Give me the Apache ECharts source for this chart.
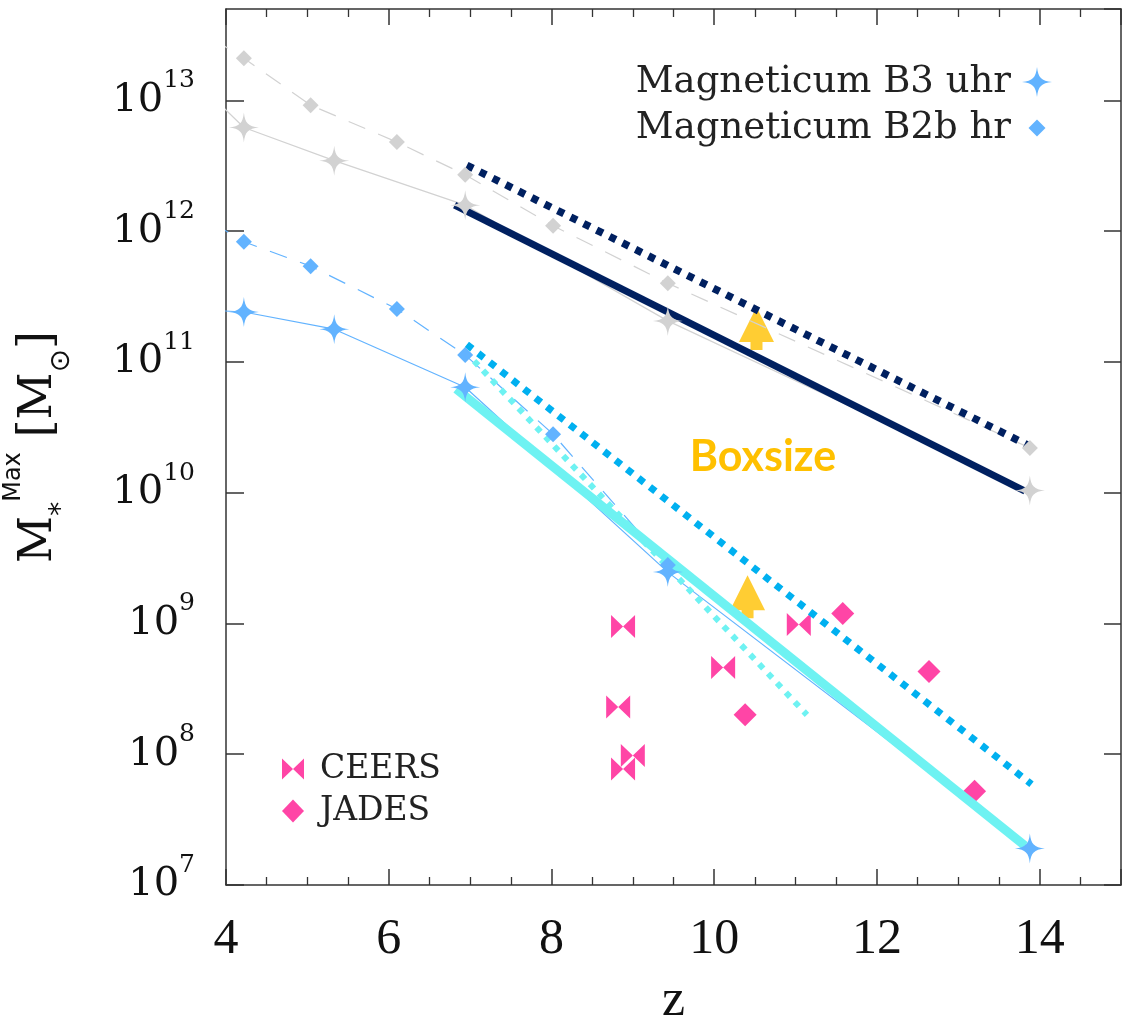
<!DOCTYPE html>
<html><head><meta charset="utf-8">
<script src="https://cdn.jsdelivr.net/npm/echarts@6/dist/echarts.min.js"></script>
<style>html,body{margin:0;padding:0;background:#fff}#c{width:1133px;height:1023px}</style>
</head><body><div id="c"></div>
<script>
// ---------- data ----------
const xTicks = [4, 6, 8, 10, 12, 14];
const yTickExponents = [7, 8, 9, 10, 11, 12, 13];

// Magneticum B2b hr (diamonds, dashed) – grey = upper, blue = lower
const zB2bGray = [3.5, 4.22, 5.04, 6.10, 6.94, 8.02, 9.43, 13.88];
const mB2bGray = [4.0e13, 2.1e13, 9.2e12, 4.8e12, 2.7e12, 1.1e12, 4.0e11, 2.2e10];
const zB2bBlue = [3.5, 4.22, 5.04, 6.10, 6.94, 8.02, 9.43];
const mB2bBlue = [1.54e12, 8.3e11, 5.4e11, 2.54e11, 1.13e11, 2.8e10, 2.8e9];

// Magneticum B3 uhr (4-point stars, solid)
const zB3 = [3.5, 4.22, 5.33, 6.94, 9.43, 13.88];
const mB3Gray = [1.7e13, 6.2e12, 3.46e12, 1.58e12, 2.06e11, 1.04e10];
const mB3Blue = [2.54e11, 2.41e11, 1.78e11, 6.4e10, 2.47e9, 1.9e7];

// fitted lines
const zNavySolid = [6.81, 13.82];   const mNavySolid = [1.58e12, 1.03e10];
const zNavyDot   = [6.96, 13.86];   const mNavyDot   = [3.19e12, 2.3e10];
const zBlueDot   = [6.96, 13.90];   const mBlueDot   = [1.36e11, 5.9e7];
const zCyanSolid = [6.83, 13.82];   const mCyanSolid = [6.2e10, 2.0e7];
const zCyanDot   = [6.94, 11.14];   const mCyanDot   = [1.2e11, 2.0e8];

// observations
const zCEERS = [8.88, 10.11, 8.82, 9.00, 8.88, 11.04];
const mCEERS = [9.5e8, 4.6e8, 2.3e8, 9.8e7, 7.7e7, 9.8e8];
const zJADES = [11.58, 12.64, 10.38, 13.20];
const mJADES = [1.19e9, 4.3e8, 2.0e8, 5.2e7];

// boxsize arrows
const zArrow = [10.52, 10.41];
const mArrow = [1.8e11, 1.6e9];

// ---------- helpers ----------
const pairs = (a, b) => a.map((v, i) => [v, b[i]]);
const STAR = 'path://M50,0 C54,36 64,46 100,50 C64,54 54,64 50,100 C46,64 36,54 0,50 C36,46 46,36 50,0 Z';
const BOW = 'path://M0,0 L50,50 L0,100 Z M100,0 L50,50 L100,100 Z';
const ARROW = 'path://M17.5,0 L35,35 L23.5,35 L23.5,43 L11.5,43 L11.5,35 L0,35 Z';
const STAR_ICON = 'path://M0,0 M36,30 M21,0 C22.3,10.8 25.2,13.7 36,15 C25.2,16.3 22.3,19.2 21,30 C19.7,19.2 16.8,16.3 6,15 C16.8,13.7 19.7,10.8 21,0 Z';
const DIA_ICON = 'path://M0,0 M36,30 M21,6.5 L29.5,15 L21,23.5 L12.5,15 Z';
const BOW_ICON = 'path://M0,0 M33,23 M0,1 L11,11.5 L0,22 Z M22,1 L11,11.5 L22,22 Z';
const JAD_ICON = 'path://M0,0 M33,23 M11,0 L22,11.5 L11,23 L0,11.5 Z';

const GRAY = '#D2D2D2', BLUE = '#62B3FF', NAVY = '#002060', LBLUE = '#00B0F0',
      CYAN = '#6EF2F2', PINK = '#FF1690', ORANGE = '#FFC000', AX = '#333';

const axLine = {show: true, onZero: false, lineStyle: {color: AX, width: 1.5}};

const chart = echarts.init(document.getElementById('c'), null, {renderer: 'canvas'});
chart.setOption({
  animation: false,
  grid: {left: 226, right: 12, top: 9, bottom: 138, containLabel: false, outerBoundsMode: 'none'},
  xAxis: [
    {type: 'value', min: 4, max: 15, interval: 2, position: 'bottom',
     axisLine: axLine,
     axisTick: {show: true, inside: true, length: 16, lineStyle: {color: AX, width: 1.5}},
     minorTick: {show: true, splitNumber: 4, length: 8, lineStyle: {color: AX, width: 1.3}},
     splitLine: {show: false},
     axisLabel: {margin: 30, fontFamily: 'Liberation Serif', fontSize: 50, color: '#111',
                 showMaxLabel: false,
                 formatter: v => xTicks.includes(v) ? String(v) : ''},
     name: 'z', nameLocation: 'middle', nameGap: 90,
     nameTextStyle: {fontFamily: 'Liberation Serif', fontSize: 52, color: '#111'}},
    {type: 'value', min: 4, max: 15, interval: 2, position: 'top',
     axisLine: axLine,
     axisTick: {show: true, inside: true, length: 16, lineStyle: {color: AX, width: 1.5}},
     minorTick: {show: true, splitNumber: 4, length: 8, lineStyle: {color: AX, width: 1.3}},
     splitLine: {show: false}, axisLabel: {show: false}}
  ],
  yAxis: [
    {type: 'log', logBase: 10, min: 1e7, max: 5e13, position: 'left',
     axisLine: axLine,
     axisTick: {show: true, inside: true, length: 18, lineStyle: {color: AX, width: 1.5}},
     minorTick: {show: false}, splitLine: {show: false},
     axisLabel: {margin: 31, showMaxLabel: false,
       formatter: v => {
         const e = Math.round(Math.log10(v));
         return yTickExponents.includes(e) ? '{b|10}{e|' + e + '}' : '';
       },
       rich: {
         b: {fontFamily: 'DejaVu Serif', fontSize: 40, lineHeight: 64, color: '#111'},
         e: {fontFamily: 'DejaVu Serif', fontSize: 25, lineHeight: 26, verticalAlign: 'top', color: '#111'}
       }},
     name: '{m|M}{s|*}{p|Max}{m| [M}{o|⊙}{m|]}',
     nameLocation: 'middle', nameRotate: 90, nameGap: 150,
     nameTextStyle: {rich: {
       m: {fontFamily: 'DejaVu Serif', fontSize: 46, lineHeight: 74, color: '#111'},
       s: {fontFamily: 'DejaVu Sans', fontSize: 28, lineHeight: 28, verticalAlign: 'bottom', color: '#111'},
       p: {fontFamily: 'DejaVu Sans', fontSize: 24, lineHeight: 24, verticalAlign: 'top', color: '#111'},
       o: {fontFamily: 'DejaVu Sans', fontSize: 28, lineHeight: 28, verticalAlign: 'bottom', color: '#111'}
     }}},
    {type: 'log', logBase: 10, min: 1e7, max: 5e13, position: 'right',
     axisLine: axLine,
     axisTick: {show: true, inside: true, length: 17, lineStyle: {color: AX, width: 1.5}},
     minorTick: {show: false}, splitLine: {show: false}, axisLabel: {show: false}}
  ],
  legend: [
    {data: [{name: 'Magneticum B3 uhr', icon: STAR_ICON}, {name: 'Magneticum B2b hr', icon: DIA_ICON}],
     orient: 'vertical', right: 81, top: 62, align: 'right', padding: 0,
     itemWidth: 36, itemHeight: 30, itemGap: 6, selectedMode: false,
     textStyle: {fontFamily: 'DejaVu Serif', fontSize: 37, lineHeight: 40, color: '#222'}},
    {data: [{name: 'CEERS', icon: BOW_ICON}, {name: 'JADES', icon: JAD_ICON}],
     orient: 'vertical', left: 282, top: 752, align: 'left', padding: 0,
     itemWidth: 33, itemHeight: 23, itemGap: 8, selectedMode: false,
     textStyle: {fontFamily: 'DejaVu Serif', fontSize: 33, lineHeight: 34, color: '#222'}}
  ],
  graphic: [
    {type: 'text', x: 763, y: 457, z: 100,
     style: {text: 'Boxsize', fontFamily: 'Lato', fontWeight: 'bold', fontSize: 43,
             fill: ORANGE, align: 'center', verticalAlign: 'middle'}}
  ],
  series: [
    {name: 'B2b hr (grey)', type: 'line', data: pairs(zB2bGray, mB2bGray), clip: true,
     symbol: 'diamond', symbolSize: 16, itemStyle: {color: GRAY},
     lineStyle: {color: GRAY, width: 1.2, type: [18, 14]}, emphasis: {disabled: true}},
    {name: 'B3 uhr (grey)', type: 'line', data: pairs(zB3, mB3Gray), clip: true,
     symbol: STAR, symbolSize: 30, itemStyle: {color: GRAY},
     lineStyle: {color: GRAY, width: 1.2}, emphasis: {disabled: true}},
    {name: 'Magneticum B2b hr', type: 'line', data: pairs(zB2bBlue, mB2bBlue), clip: true,
     symbol: 'diamond', symbolSize: 16, itemStyle: {color: BLUE},
     lineStyle: {color: BLUE, width: 1.2, type: [18, 14]}, emphasis: {disabled: true}},
    {name: 'Magneticum B3 uhr', type: 'line', data: pairs(zB3, mB3Blue), clip: true,
     symbol: STAR, symbolSize: 30, itemStyle: {color: BLUE},
     lineStyle: {color: BLUE, width: 1.2}, emphasis: {disabled: true}},
    {name: 'CEERS', type: 'scatter', data: pairs(zCEERS, mCEERS), symbol: BOW, symbolSize: [24, 23],
     itemStyle: {color: PINK}, emphasis: {disabled: true}},
    {name: 'JADES', type: 'scatter', data: pairs(zJADES, mJADES), symbol: 'diamond', symbolSize: 23,
     itemStyle: {color: PINK}, emphasis: {disabled: true}},
    {name: 'fit navy', type: 'line', data: pairs(zNavySolid, mNavySolid), symbol: 'none',
     lineStyle: {color: NAVY, width: 7}, emphasis: {disabled: true}},
    {name: 'fit navy dotted', type: 'line', data: pairs(zNavyDot, mNavyDot), symbol: 'none',
     lineStyle: {color: NAVY, width: 7.5, type: [7, 7.5]}, emphasis: {disabled: true}},
    {name: 'fit blue dotted', type: 'line', data: pairs(zBlueDot, mBlueDot), symbol: 'none',
     lineStyle: {color: LBLUE, width: 7, type: [7, 7.5]}, emphasis: {disabled: true}},
    {name: 'fit cyan dotted', type: 'line', data: pairs(zCyanDot, mCyanDot), symbol: 'none',
     lineStyle: {color: CYAN, width: 6, type: [6, 7]}, emphasis: {disabled: true}},
    {name: 'fit cyan', type: 'line', data: pairs(zCyanSolid, mCyanSolid), symbol: 'none',
     lineStyle: {color: CYAN, width: 9}, emphasis: {disabled: true}},
    {name: 'Boxsize arrows', type: 'scatter', data: pairs(zArrow, mArrow), symbol: ARROW,
     symbolSize: [35, 43], itemStyle: {color: ORANGE}, emphasis: {disabled: true}}
  ]
});
</script></body></html>
